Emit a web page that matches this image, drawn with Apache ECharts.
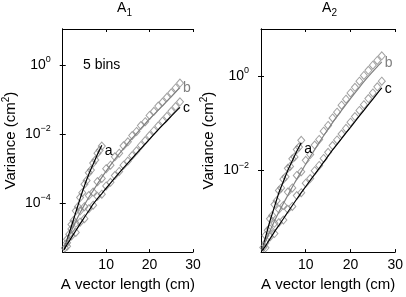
<!DOCTYPE html>
<html>
<head>
<meta charset="utf-8">
<script src="https://cdn.jsdelivr.net/npm/echarts@6/dist/echarts.min.js"></script>
<style>
  html, body { margin: 0; background: #fff; }
  #chart { width: 406px; height: 297px; }
</style>
</head>
<body>
<div id="chart"></div>
<script>
// x positions (cm)
const xA = [0.5, 1, 1.5, 2, 2.5, 3, 3.5, 4, 4.5, 5, 5.5, 6, 6.5, 7, 7.5, 8, 8.5, 9];
const xBC = [1, 2, 3, 4, 5, 6, 7, 8, 9, 10, 11, 12, 13, 14, 15, 16, 17, 18, 19, 20, 21, 22, 23, 24, 25, 26, 27];
const xFitA = [0.3, 1, 2, 3, 4, 5, 6, 7, 8, 9];
const xFitBC = [0.3, 1, 2, 3, 4, 5, 6, 7, 8, 9, 10, 12, 14, 16, 18, 20, 22, 24, 26, 27];

// A1 panel, variance (cm^2)
const a1Pts = [5.0e-6, 8.9e-6, 1.26e-5, 2.4e-5, 3.16e-5, 6.0e-5, 7.9e-5, 1.45e-4, 2.0e-4, 3.55e-4, 4.5e-4, 7.6e-4, 9.1e-4, 1.45e-3, 1.78e-3, 2.8e-3, 3.4e-3, 4.5e-3];
const a1Fit = [4.5e-6, 8.5e-6, 2.14e-5, 5.4e-5, 1.35e-4, 3.2e-4, 6.9e-4, 1.35e-3, 2.6e-3, 4.8e-3];
const b1Pts = [7.1e-6, 1.78e-5, 2.6e-5, 6.0e-5, 7.9e-5, 1.66e-4, 2.1e-4, 4.2e-4, 5.2e-4, 1.0e-3, 1.26e-3, 2.2e-3, 2.8e-3, 4.6e-3, 6.0e-3, 9.1e-3, 1.2e-2, 1.78e-2, 2.3e-2, 3.5e-2, 4.6e-2, 6.5e-2, 8.5e-2, 0.117, 0.158, 0.219, 0.302];
const b1Fit = [5.0e-6, 7.9e-6, 1.58e-5, 2.95e-5, 5.25e-5, 8.9e-5, 1.45e-4, 2.29e-4, 3.63e-4, 5.6e-4, 8.5e-4, 1.86e-3, 3.8e-3, 7.6e-3, 1.45e-2, 2.75e-2, 5.0e-2, 9.1e-2, 0.166, 0.224];
const c1Pts = [5.6e-6, 1.12e-5, 1.41e-5, 2.8e-5, 3.55e-5, 6.9e-5, 8.7e-5, 1.58e-4, 1.82e-4, 3.16e-4, 4.0e-4, 6.3e-4, 8.3e-4, 1.26e-3, 1.66e-3, 2.4e-3, 3.3e-3, 4.7e-3, 6.5e-3, 9.1e-3, 1.26e-2, 1.74e-2, 2.4e-2, 3.3e-2, 4.6e-2, 6.3e-2, 8.7e-2];
const c1Fit = [4.5e-6, 6.3e-6, 1.0e-5, 1.58e-5, 2.5e-5, 3.9e-5, 6.0e-5, 9.3e-5, 1.35e-4, 1.9e-4, 2.7e-4, 5.4e-4, 1.05e-3, 2.0e-3, 3.8e-3, 7.2e-3, 1.35e-2, 2.45e-2, 4.5e-2, 6.0e-2];

// A2 panel
const a2Pts = [2.34e-4, 4.2e-4, 5.4e-4, 9.5e-4, 1.12e-3, 1.9e-3, 2.3e-3, 3.8e-3, 4.3e-3, 6.6e-3, 7.4e-3, 1.12e-2, 1.23e-2, 1.78e-2, 1.95e-2, 2.8e-2, 3.16e-2, 4.4e-2];
const a2Fit = [2.1e-4, 3.8e-4, 8.5e-4, 1.7e-3, 3.4e-3, 5.9e-3, 1.02e-2, 1.62e-2, 2.57e-2, 3.9e-2];
const b2Pts = [2.9e-4, 5.8e-4, 7.6e-4, 1.51e-3, 1.82e-3, 3.5e-3, 4.3e-3, 7.9e-3, 9.5e-3, 1.66e-2, 2.2e-2, 3.5e-2, 4.6e-2, 6.9e-2, 9.1e-2, 0.132, 0.174, 0.245, 0.33, 0.447, 0.589, 0.794, 1.05, 1.35, 1.74, 2.19, 2.75];
const b2Fit = [2.2e-4, 3.16e-4, 5.2e-4, 8.5e-4, 1.32e-3, 2.0e-3, 3.0e-3, 4.5e-3, 6.6e-3, 9.5e-3, 1.38e-2, 2.8e-2, 5.5e-2, 0.105, 0.19, 0.34, 0.59, 1.0, 1.62, 2.04];
const c2Pts = [2.29e-4, 3.9e-4, 4.6e-4, 7.9e-4, 8.9e-4, 1.51e-3, 1.74e-3, 2.95e-3, 3.4e-3, 5.4e-3, 6.8e-3, 1.0e-2, 1.29e-2, 1.82e-2, 2.45e-2, 3.4e-2, 4.5e-2, 6.0e-2, 7.9e-2, 0.107, 0.141, 0.19, 0.251, 0.339, 0.447, 0.603, 0.794];
const c2Fit = [2.0e-4, 2.5e-4, 3.55e-4, 5.0e-4, 6.9e-4, 9.5e-4, 1.32e-3, 1.82e-3, 2.5e-3, 3.4e-3, 4.6e-3, 8.3e-3, 1.51e-2, 2.75e-2, 4.8e-2, 8.3e-2, 0.145, 0.251, 0.437, 0.575];

// ticks
const xTicks = [0, 10, 20, 30];
const y1Ticks = [1e-4, 1e-2, 1];
const y2Ticks = [1e-2, 1];

const FONT = '"Liberation Sans", Arial, Helvetica, sans-serif';
const GRAY = '#8a8a8a';

const pairs = (xs, ys) => xs.map((x, i) => [x, ys[i]]);

function expLabel(v) {
  const e = Math.round(Math.log10(v));
  return '{b|10}{s|' + (e < 0 ? '\u2212' + (-e) : e) + '}';
}

function xAxisPair(g, withName) {
  const base = {
    type: 'value', gridIndex: g, min: xTicks[0], max: xTicks[xTicks.length - 1], interval: 10,
    axisLine: { lineStyle: { color: '#000', width: 1 } },
    axisTick: { inside: true, length: 3, lineStyle: { color: '#000' } },
    splitLine: { show: false }
  };
  return [
    Object.assign({}, base, {
      axisLabel: { color: '#000', fontSize: 14, fontFamily: FONT, margin: 6,
        formatter: v => (v === 0 ? '' : v) },
      name: withName ? 'A vector length (cm)' : '',
      nameLocation: 'middle', nameGap: 20,
      nameTextStyle: { color: '#000', fontSize: 15, fontFamily: FONT }
    }),
    Object.assign({}, base, { position: 'top', axisLabel: { show: false } })
  ];
}

function yAxisPair(g, min, max, ticks, gap) {
  const base = {
    type: 'log', logBase: 10, gridIndex: g, min: min, max: max,
    axisLine: { lineStyle: { color: '#000', width: 1 } },
    axisTick: { inside: true, length: 3, customValues: ticks, lineStyle: { color: '#000' } },
    splitLine: { show: false },
    minorTick: { show: false }
  };
  return [
    Object.assign({}, base, {
      position: 'left',
      axisLabel: {
        customValues: ticks, color: '#000', margin: 12, formatter: expLabel,
        rich: {
          b: { fontSize: 14, lineHeight: 20, fontFamily: FONT, color: '#000' },
          s: { fontSize: 9, verticalAlign: 'top', fontFamily: FONT, color: '#000' }
        }
      },
      name: 'Variance (cm{s|2})', nameLocation: 'middle', nameGap: gap,
      nameTextStyle: {
        color: '#000', fontSize: 15, lineHeight: 20, fontFamily: FONT,
        rich: { s: { fontSize: 10, verticalAlign: 'top', fontFamily: FONT, color: '#000' } }
      }
    }),
    Object.assign({}, base, { position: 'right', axisLabel: { show: false } })
  ];
}

function markers(xi, yi, xs, ys) {
  return {
    type: 'scatter', xAxisIndex: xi, yAxisIndex: yi, data: pairs(xs, ys),
    symbol: 'diamond', symbolSize: [7, 8],
    itemStyle: { color: 'rgba(255,255,255,0)', borderColor: GRAY, borderWidth: 1 },
    z: 2, silent: true
  };
}

function fit(xi, yi, xs, ys, color, name, dy) {
  return {
    type: 'line', xAxisIndex: xi, yAxisIndex: yi, data: pairs(xs, ys),
    showSymbol: false, smooth: 0.2,
    lineStyle: { color: color, width: 1.2 },
    endLabel: { show: true, formatter: name, distance: 3, offset: [0, dy],
      color: color, fontSize: 14, fontFamily: FONT },
    z: 3, silent: true
  };
}

const titleRich = {
  a: { fontSize: 14, lineHeight: 20, fontFamily: FONT, fontWeight: 'normal', color: '#000' },
  s: { fontSize: 10, verticalAlign: 'bottom', fontFamily: FONT, fontWeight: 'normal', color: '#000' }
};

const chart = echarts.init(document.getElementById('chart'));

chart.setOption({
  animation: false,
  textStyle: { fontFamily: FONT },
  title: [
    { text: '{a|A}{s|1}', left: 124.5, top: -2, padding: 0, textAlign: 'center',
      textStyle: { fontWeight: 'normal', rich: titleRich } },
    { text: '{a|A}{s|2}', left: 329.5, top: -2, padding: 0, textAlign: 'center',
      textStyle: { fontWeight: 'normal', rich: titleRich } }
  ],
  graphic: [
    { type: 'text', left: 83, top: 58,
      style: { text: '5 bins', fontSize: 14, fontFamily: FONT, fill: '#000' } }
  ],
  grid: [
    { left: 56, top: 29, width: 137, height: 229 },
    { left: 261, top: 29, width: 137, height: 229 }
  ],
  xAxis: [].concat(xAxisPair(0, true), xAxisPair(1, true)),
  yAxis: [].concat(
    yAxisPair(0, 3.8e-6, 11.2, y1Ticks, 36),
    yAxisPair(1, 1.86e-4, 10.2, y2Ticks, 40)
  ),
  series: [
    markers(0, 0, xA, a1Pts),
    markers(0, 0, xBC, b1Pts),
    markers(0, 0, xBC, c1Pts),
    fit(0, 0, xFitA, a1Fit, '#000', 'a', 6),
    fit(0, 0, xFitBC, b1Fit, '#808080', 'b', 1),
    fit(0, 0, xFitBC, c1Fit, '#000', 'c', 1),
    markers(2, 2, xA, a2Pts),
    markers(2, 2, xBC, b2Pts),
    markers(2, 2, xBC, c2Pts),
    fit(2, 2, xFitA, a2Fit, '#000', 'a', 6),
    fit(2, 2, xFitBC, b2Fit, '#808080', 'b', 1),
    fit(2, 2, xFitBC, c2Fit, '#000', 'c', 1)
  ]
});
</script>
</body>
</html>
